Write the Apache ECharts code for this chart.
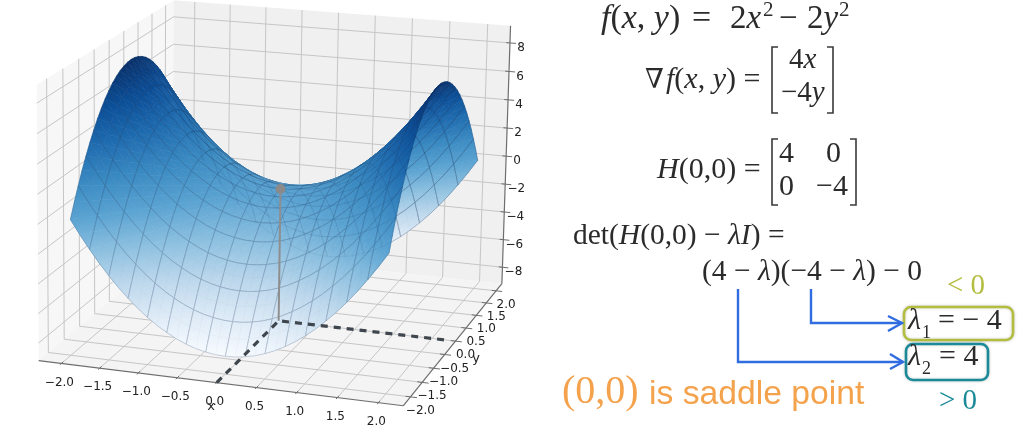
<!DOCTYPE html>
<html><head><meta charset="utf-8">
<style>html,body{margin:0;padding:0;background:#fff}#c{width:1024px;height:434px}</style>
<script src="https://cdn.jsdelivr.net/npm/echarts@6/dist/echarts.min.js"></script>
</head><body><div id="c"></div>
<script>
// ---- data ----
const xTicks=[-2,-1.5,-1,-0.5,0,0.5,1,1.5,2];
const yTicks=[-2,-1.5,-1,-0.5,0,0.5,1,1.5,2];
const zTicks=[-8,-6,-4,-2,0,2,4,6,8];
const gridX=[-2,-1.875,-1.75,-1.625,-1.5,-1.375,-1.25,-1.125,-1,-0.875,-0.75,-0.625,-0.5,-0.375,-0.25,-0.125,0,0.125,0.25,0.375,0.5,0.625,0.75,0.875,1,1.125,1.25,1.375,1.5,1.625,1.75,1.875,2];
const gridY=gridX;
// half-rows, x from -2 to 0; the surface is mirror-symmetric about x=0 and y=0
const h00=[0,-.97,-1.87,-2.72,-3.5,-4.22,-4.87,-5.47,-6,-6.47,-6.87,-7.22,-7.5,-7.72,-7.87,-7.97,-8];
const h01=[.97,0,-.9,-1.75,-2.53,-3.25,-3.9,-4.5,-5.03,-5.5,-5.9,-6.25,-6.53,-6.75,-6.9,-7,-7.03];
const h02=[1.87,.9,0,-.85,-1.63,-2.35,-3,-3.6,-4.13,-4.6,-5,-5.35,-5.63,-5.85,-6,-6.1,-6.13];
const h03=[2.72,1.75,.85,0,-.78,-1.5,-2.15,-2.75,-3.28,-3.75,-4.15,-4.5,-4.78,-5,-5.15,-5.25,-5.28];
const h04=[3.5,2.53,1.63,.78,0,-.72,-1.37,-1.97,-2.5,-2.97,-3.37,-3.72,-4,-4.22,-4.37,-4.47,-4.5];
const h05=[4.22,3.25,2.35,1.5,.72,0,-.65,-1.25,-1.78,-2.25,-2.65,-3,-3.28,-3.5,-3.65,-3.75,-3.78];
const h06=[4.87,3.9,3,2.15,1.37,.65,0,-.6,-1.13,-1.6,-2,-2.35,-2.63,-2.85,-3,-3.1,-3.13];
const h07=[5.47,4.5,3.6,2.75,1.97,1.25,.6,0,-.53,-1,-1.4,-1.75,-2.03,-2.25,-2.4,-2.5,-2.53];
const h08=[6,5.03,4.13,3.28,2.5,1.78,1.13,.53,0,-.47,-.87,-1.22,-1.5,-1.72,-1.87,-1.97,-2];
const h09=[6.47,5.5,4.6,3.75,2.97,2.25,1.6,1,.47,0,-.4,-.75,-1.03,-1.25,-1.4,-1.5,-1.53];
const h10=[6.87,5.9,5,4.15,3.37,2.65,2,1.4,.87,.4,0,-.35,-.63,-.85,-1,-1.1,-1.13];
const h11=[7.22,6.25,5.35,4.5,3.72,3,2.35,1.75,1.22,.75,.35,0,-.28,-.5,-.65,-.75,-.78];
const h12=[7.5,6.53,5.63,4.78,4,3.28,2.63,2.03,1.5,1.03,.63,.28,0,-.22,-.37,-.47,-.5];
const h13=[7.72,6.75,5.85,5,4.22,3.5,2.85,2.25,1.72,1.25,.85,.5,.22,0,-.15,-.25,-.28];
const h14=[7.87,6.9,6,5.15,4.37,3.65,3,2.4,1.87,1.4,1,.65,.37,.15,0,-.1,-.13];
const h15=[7.97,7,6.1,5.25,4.47,3.75,3.1,2.5,1.97,1.5,1.1,.75,.47,.25,.1,0,-.03];
const h16=[8,7.03,6.13,5.28,4.5,3.78,3.13,2.53,2,1.53,1.13,.78,.5,.28,.13,.03,0];
const halfRows=[h00,h01,h02,h03,h04,h05,h06,h07,h08,h09,h10,h11,h12,h13,h14,h15,h16];
const mirror=r=>[...r,...r.slice(0,-1).reverse()];
const zGrid=mirror(halfRows.map(mirror));
const saddle=[0,0,0];
const blues=['#f7fbff','#deebf7','#bcd7ec','#8cc0e0','#5aa3d2','#3a8ac2','#1f6cb0','#0b4f98','#08306b'];
// ---- camera: projective map fitted to reference landmarks ----
const B=2.3,Z=9.2;
const landmarks=[
 [[-B,-B,-Z],[42,361]],[[B,-B,-Z],[402,407]],[[B,B,-Z],[503,283]],[[-B,B,-Z],[172,248]],
 [[B,B,Z],[509,28]],[[-B,B,Z],[170,0]],[[-B,-B,Z],[35,85]],
 [[-2,-B,-Z],[63,364]],[[2,-B,-Z],[377,404]],[[B,B,8],[509,44]],[[B,B,-8],[503,267]],
 [[0,0,0],[280,185]],[[0,0,-Z],[280,322]],[[-2,0,8],[135,58]],[[2,0,8],[445,87]],[[-2,-2,0],[70,222]],
 [[2,2,0],[478,160]],[[2,-2,0],[388,247]],[[0,-2,-8],[220,357]]];
function fit(){
 const n=11,A=[...Array(n)].map(()=>Array(n+1).fill(0));
 const add=(r,v)=>{for(let i=0;i<n;i++){for(let j=0;j<n;j++)A[i][j]+=r[i]*r[j];A[i][n]+=r[i]*v;}};
 landmarks.forEach(([p,q])=>{const [x,y,z]=p,[u,v]=q;
  add([x,y,z,1,0,0,0,0,-u*x,-u*y,-u*z],u);
  add([0,0,0,0,x,y,z,1,-v*x,-v*y,-v*z],v);});
 for(let i=0;i<n;i++){let m=i;for(let k=i+1;k<n;k++)if(Math.abs(A[k][i])>Math.abs(A[m][i]))m=k;
  [A[i],A[m]]=[A[m],A[i]];
  for(let k=0;k<n;k++)if(k!==i){const f=A[k][i]/A[i][i];for(let j=i;j<=n;j++)A[k][j]-=f*A[i][j];}}
 return A.map((r,i)=>r[n]/r[i]);
}
const P=fit();
function proj(x,y,z){const w=P[8]*x+P[9]*y+P[10]*z+1;
 return [(P[0]*x+P[1]*y+P[2]*z+P[3])/w,(P[4]*x+P[5]*y+P[6]*z+P[7])/w,w];}
function cmap(z){let t=(z+8)/16*8;t=Math.max(0,Math.min(8,t));const i=Math.min(7,Math.floor(t)),f=t-i;
 const h=s=>[1,3,5].map(k=>parseInt(s.substr(k,2),16));const a=h(blues[i]),b=h(blues[i+1]);
 return 'rgb('+a.map((v,k)=>Math.round(v+(b[k]-v)*f)).join(',')+')';}
// ---- scene items ----
const seg=(a,b,color,w,dash)=>({a,b,color,w,dash});
const panes=[
 {pts:[[-B,-B,-Z],[-B,B,-Z],[-B,B,Z],[-B,-B,Z]],fill:'#f7f7f7'},
 {pts:[[-B,B,-Z],[B,B,-Z],[B,B,Z],[-B,B,Z]],fill:'#f0f0f0'},
 {pts:[[-B,-B,-Z],[B,-B,-Z],[B,B,-Z],[-B,B,-Z]],fill:'#f4f4f4'}];
const G='#c6c6c6',A='#6e6e6e';
const lines=[];
xTicks.forEach(x=>{lines.push(seg([x,-B,-Z],[x,B,-Z],G,1),seg([x,B,-Z],[x,B,Z],G,1),seg([x,-B-0.05,-Z],[x,-B+0.06,-Z],A,1));});
yTicks.forEach(y=>{lines.push(seg([-B,y,-Z],[B,y,-Z],G,1),seg([-B,y,-Z],[-B,y,Z],G,1),seg([B-0.06,y,-Z],[B+0.08,y,-Z],A,1));});
zTicks.forEach(z=>{lines.push(seg([-B,-B,z],[-B,B,z],G,1),seg([-B,B,z],[B,B,z],G,1),seg([B-0.05,B,z],[B+0.08,B,z],A,1));});
lines.push(seg([-B,-B,-Z],[B,-B,-Z],A,1.2),seg([B,-B,-Z],[B,B,-Z],A,1.2),seg([B,B,-Z],[B,B,Z],A,1.2));
const quads=[];
const last=gridX.length-2;
for(let j=0;j<gridY.length-1;j++)for(let i=0;i<gridX.length-1;i++){
 const v=[[i,j],[i+1,j],[i+1,j+1],[i,j+1]].map(([a,b])=>[gridX[a],gridY[b],zGrid[b][a]]);
 const c=[0,1,2].map(k=>(v[0][k]+v[1][k]+v[2][k]+v[3][k])/4);
 // mesh lines run along every second sample; each is stroked from both neighbouring cells
 const edges=[];
 if(j%2===0)edges.push([0,1]);
 if(i%2===0)edges.push([3,0]);
 if((j+1)%2===0)edges.push([2,3]);
 if((i+1)%2===0)edges.push([1,2]);
 quads.push({v,edges,d:proj(c[0],c[1],c[2])[2],back:gridY[j]>=0});
}
quads.sort((p,q)=>q.d-p.d);
const hidden=quads.filter(q=>q.back);
function triFill(t){ // exact linear shading of z over a projected triangle
 const p=t.map(v=>proj(v[0],v[1],v[2]));
 const dx1=p[1][0]-p[0][0],dy1=p[1][1]-p[0][1],dx2=p[2][0]-p[0][0],dy2=p[2][1]-p[0][1];
 const dz1=t[1][2]-t[0][2],dz2=t[2][2]-t[0][2],det=dx1*dy2-dx2*dy1;
 const zm=(t[0][2]+t[1][2]+t[2][2])/3;
 if(Math.abs(det)<1e-3)return cmap(zm);
 const gx=(dz1*dy2-dz2*dy1)/det,gy=(dx1*dz2-dx2*dz1)/det,g2=gx*gx+gy*gy;
 if(g2<1e-9)return cmap(zm);
 const zs=t.map(v=>v[2]),lo=Math.min(...zs),hi=Math.max(...zs);
 const sx=p[0][0]+(lo-t[0][2])*gx/g2,sy=p[0][1]+(lo-t[0][2])*gy/g2;
 const ex=p[0][0]+(hi-t[0][2])*gx/g2,ey=p[0][1]+(hi-t[0][2])*gy/g2;
 return new echarts.graphic.LinearGradient(sx,sy,ex,ey,[0,.5,1].map(o=>({offset:o,color:cmap(lo+(hi-lo)*o)})),true);
}
const toPx=(api,p)=>{const q=proj(p[0],p[1],p[2]);return api.coord([q[0],q[1]]);};
// ---- annotation helpers ----
const serif='"Liberation Serif"';
function tx(str,x,base,size,color,family){
 color=color||'#2b2b2b';family=family||serif;
 const parts=str.split('*');let text='';
 parts.forEach((s,i)=>{if(s)text+='{'+(i%2?'i':'r')+'|'+s+'}';});
 return {type:'text',silent:true,z:20,style:{text,x,y:base-size*0.33,fill:color,textAlign:'left',textVerticalAlign:'middle',
  font:size+'px '+family,
  rich:{i:{fontFamily:family,fontStyle:'italic',fontSize:size,fill:color},r:{fontFamily:family,fontSize:size,fill:color}}}};
}
function pl(points,color,w){return {type:'polyline',silent:true,z:15,shape:{points},style:{stroke:color,lineWidth:w,fill:null,lineJoin:'miter'}};}
function box(x,y,w,h,color){return {type:'rect',silent:true,z:10,shape:{x,y,width:w,height:h,r:7},style:{stroke:color,lineWidth:2.6,fill:'#fff',shadowColor:'rgba(0,0,0,.18)',shadowBlur:3}};}
const ink='#3a3a3a',olive='#b3bd3f',teal='#1a8a99',blue='#2f6de0',orange='#f4a24c';
const notes=[
 tx('*f*(*x*, *y*)',601,30,34),tx('=',692,30,34),tx('2*x*',730,30,33),tx('2',763,17,21),tx('−',779,30,33),tx('2*y*',807,30,33),tx('2',839,17,21),
 tx('∇',645,90,27,null,'"DejaVu Serif"'),tx('*f*(*x*, *y*) =',666,90,30),
 pl([[778,47],[772,47],[772,113],[778,113]],ink,1.6),pl([[827,47],[833,47],[833,113],[827,113]],ink,1.6),
 tx('4*x*',789,70,29),tx('−4*y*',781,103,29),
 tx('*H*(0,0) =',657,180,30),
 pl([[778,139],[772,139],[772,205],[778,205]],ink,1.6),pl([[850,139],[856,139],[856,205],[850,205]],ink,1.6),
 tx('4',779,164,30),tx('0',826,164,30),tx('0',779,197,30),tx('−4',816,197,30),
 tx('det(*H*(0,0) − *λI*) =',573,246,29.5),
 tx('(4 − *λ*)(−4 − *λ*) − 0',702,282,29.5),
 tx('< 0',947,296,29,olive),
 box(904,307,109,33,olive),box(906,344,82,36,teal),
 tx('*λ*',908,331,30),tx('1',922,339,18),tx('= − 4',938,331,30),
 tx('*λ*',908,367,30),tx('2',922,375,18),tx('= 4',939,367,30),
 tx('> 0',939,411,29,teal),
 pl([[811,289],[811,323],[902,323]],blue,2.4),pl([[888,316],[902,323],[888,331]],blue,2.4),
 pl([[738,289],[738,362],[903,362]],blue,2.4),pl([[890,354],[903,362],[890,369]],blue,2.4),
 tx('(0,0)',562,406,40,orange),tx('is saddle point',649,406,33.7,orange,'"Liberation Sans"')
];
// ---- tick labels ----
const axisFont='12px "DejaVu Sans"';
function label3d(p,dx,dy,text,align){const q=proj(p[0],p[1],p[2]);
 return {type:'text',silent:true,z:12,style:{text,x:q[0]+dx,y:q[1]+dy,font:axisFont,fill:'#222',textAlign:align||'center',textVerticalAlign:'middle'}};}
const fmt=v=>(v<0?'−':'')+Math.abs(v).toFixed(1);
const fmtZ=v=>(v<0?'−':'')+Math.abs(v);
const labels=[
 ...xTicks.map(x=>label3d([x,-B,-Z],-2,19,fmt(x))),
 ...yTicks.map(y=>label3d([B,y,-Z],10,14,fmt(y))),
 ...zTicks.map(z=>label3d([B,B,z],11,5,fmtZ(z))),
 {type:'text',silent:true,z:13,style:{text:'x',x:211,y:407,font:'13px "DejaVu Sans"',fill:'#222',textAlign:'center',textVerticalAlign:'middle'}},
 {type:'text',silent:true,z:13,style:{text:'y',x:476,y:359,font:'13px "DejaVu Sans"',fill:'#222',textAlign:'center',textVerticalAlign:'middle'}}
];
// ---- chart ----
const chart=echarts.init(document.getElementById('c'),null,{renderer:'canvas'});
const idx=a=>a.map((_,i)=>[i]);
const base={type:'custom',coordinateSystem:'cartesian2d',clip:false,silent:true,animation:false,encode:{x:0,y:0},progressive:0};
const edgeLine=(api,v,e,stroke)=>{const a=toPx(api,v[e[0]]),b=toPx(api,v[e[1]]);
 return {type:'line',shape:{x1:a[0],y1:a[1],x2:b[0],y2:b[1]},style:{stroke,lineWidth:0.8}};};
chart.setOption({
 animation:false,backgroundColor:'#fff',
 grid:{left:0,right:0,top:0,bottom:0},
 xAxis:{type:'value',min:0,max:1024,show:false},
 yAxis:{type:'value',min:0,max:434,inverse:true,show:false},
 graphic:{elements:[...labels,...notes]},
 series:[
  {...base,z:1,data:idx(panes),renderItem:(p,api)=>{const o=panes[p.dataIndex];
    return {type:'polygon',shape:{points:o.pts.map(q=>toPx(api,q))},style:{fill:o.fill}};}},
  {...base,z:2,data:idx(lines),renderItem:(p,api)=>{const o=lines[p.dataIndex],a=toPx(api,o.a),b=toPx(api,o.b);
    return {type:'line',shape:{x1:a[0],y1:a[1],x2:b[0],y2:b[1]},style:{stroke:o.color,lineWidth:o.w}};}},
  {...base,z:3,data:idx(quads),renderItem:(p,api)=>{const q=quads[p.dataIndex],v=q.v;
    const tri=(a,b,c)=>{const f=triFill([v[a],v[b],v[c]]);
      return {type:'polygon',shape:{points:[v[a],v[b],v[c]].map(t=>toPx(api,t))},style:{fill:f,stroke:f,lineWidth:0.6}};};
    return {type:'group',children:[tri(0,1,2),tri(0,2,3),
      {type:'polygon',shape:{points:v.map(t=>toPx(api,t))},style:{fill:null,stroke:'rgba(30,60,95,0.05)',lineWidth:0.5}},
      ...q.edges.map(e=>edgeLine(api,v,e,'rgba(30,60,95,0.28)'))]};}},
  {...base,z:4,data:idx(hidden),renderItem:(p,api)=>{const q=hidden[p.dataIndex];
    return {type:'group',children:q.edges.map(e=>edgeLine(api,q.v,e,'rgba(30,60,95,0.09)'))};}},
  {...base,z:5,data:[[0]],renderItem:(p,api)=>{
    const s=toPx(api,saddle),f=toPx(api,[saddle[0],saddle[1],-Z]),a=toPx(api,[saddle[0],-B,-Z]),b=toPx(api,[2.2,saddle[1],-Z]);
    const dash={stroke:'#3f464e',lineWidth:3.2,lineDash:[7,6],fill:null};
    return {type:'group',children:[
     {type:'line',shape:{x1:s[0],y1:s[1],x2:f[0],y2:f[1]},style:{stroke:'#8e8e8e',lineWidth:2}},
     {type:'polyline',shape:{points:[a,f,b]},style:dash},
     {type:'circle',shape:{cx:s[0],cy:s[1],r:5},style:{fill:'#8a8a8a'}}]};}}
 ]
});
</script></body></html>
